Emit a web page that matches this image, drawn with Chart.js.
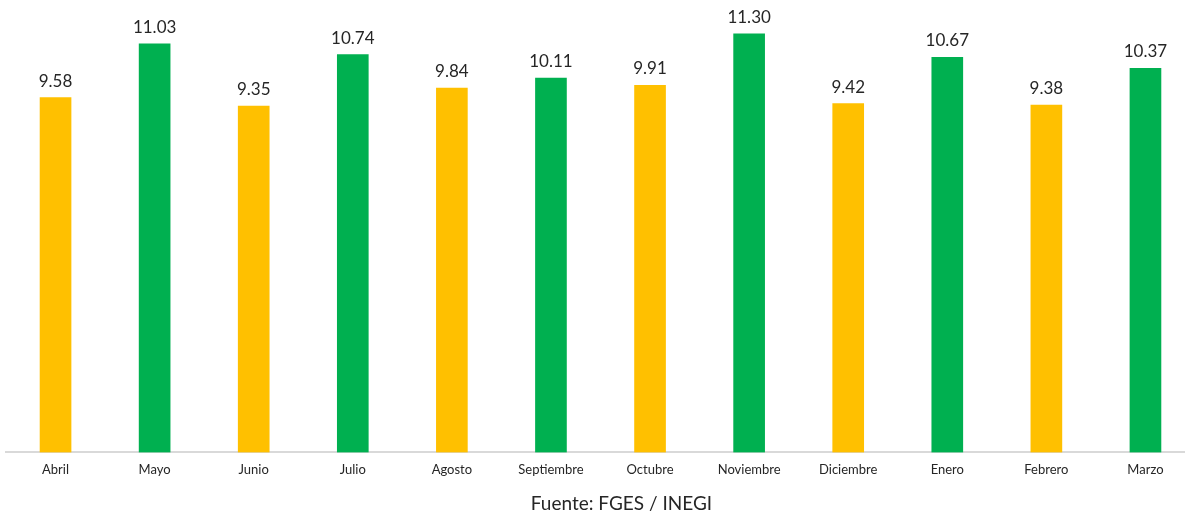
<!DOCTYPE html>
<html>
<head>
<meta charset="utf-8">
<script src="https://cdn.jsdelivr.net/npm/chart.js@4"></script>
<style>
  html, body { margin: 0; padding: 0; background: #fff; overflow: hidden; }
  #wrap { position: relative; width: 1195px; height: 514px; }
  #fuente { position: absolute; left: 0; width: 1243px; top: 491px; text-align: center;
            font-family: Lato, 'Open Sans', sans-serif; font-size: 19px; color: #262626; }
</style>
</head>
<body>
<div id="wrap">
  <canvas id="chart" width="1195" height="514"></canvas>
  <div id="fuente">Fuente: FGES / INEGI</div>
</div>
<script>
const meses = ['Abril', 'Mayo', 'Junio', 'Julio', 'Agosto', 'Septiembre', 'Octubre', 'Noviembre', 'Diciembre', 'Enero', 'Febrero', 'Marzo'];
const valores = [9.58, 11.03, 9.35, 10.74, 9.84, 10.11, 9.91, 11.30, 9.42, 10.67, 9.38, 10.37];
const colores = ['#FFC000', '#00B050', '#FFC000', '#00B050', '#FFC000', '#00B050', '#FFC000', '#00B050', '#FFC000', '#00B050', '#FFC000', '#00B050'];

// etiquetas de valor encima de cada barra
const etiquetas = {
    id: 'etiquetas',
    afterDatasetsDraw(chart) {
        const ctx = chart.ctx;
        const meta = chart.getDatasetMeta(0);
        ctx.save();
        ctx.font = '17px Lato, "Open Sans", sans-serif';
        ctx.fillStyle = '#262626';
        ctx.textAlign = 'center';
        ctx.textBaseline = 'bottom';
        meta.data.forEach((bar, i) => {
            ctx.fillText(valores[i].toFixed(2), bar.x, bar.y - 8);
        });
        ctx.restore();
    }
};

new Chart(document.getElementById('chart').getContext('2d'), {
    type: 'bar',
    data: {
        labels: meses,
        datasets: [{
            data: valores,
            backgroundColor: colores,
            barThickness: 31,
        }]
    },
    options: {
        responsive: false,
        animation: false,
        layout: { padding: { top: 8, left: 6, right: 0, bottom: 26 } },
        plugins: { legend: { display: false }, tooltip: { enabled: false } },
        scales: {
            y: { display: false, min: 0, max: 12 },
            x: {
                grid: { display: false, drawTicks: false },
                border: { display: true, color: '#d9d9d9', width: 2 },
                ticks: { color: '#262626', padding: 10, font: { family: 'Lato, "Open Sans", sans-serif', size: 13 } }
            }
        }
    },
    plugins: [etiquetas]
});
</script>
</body>
</html>
